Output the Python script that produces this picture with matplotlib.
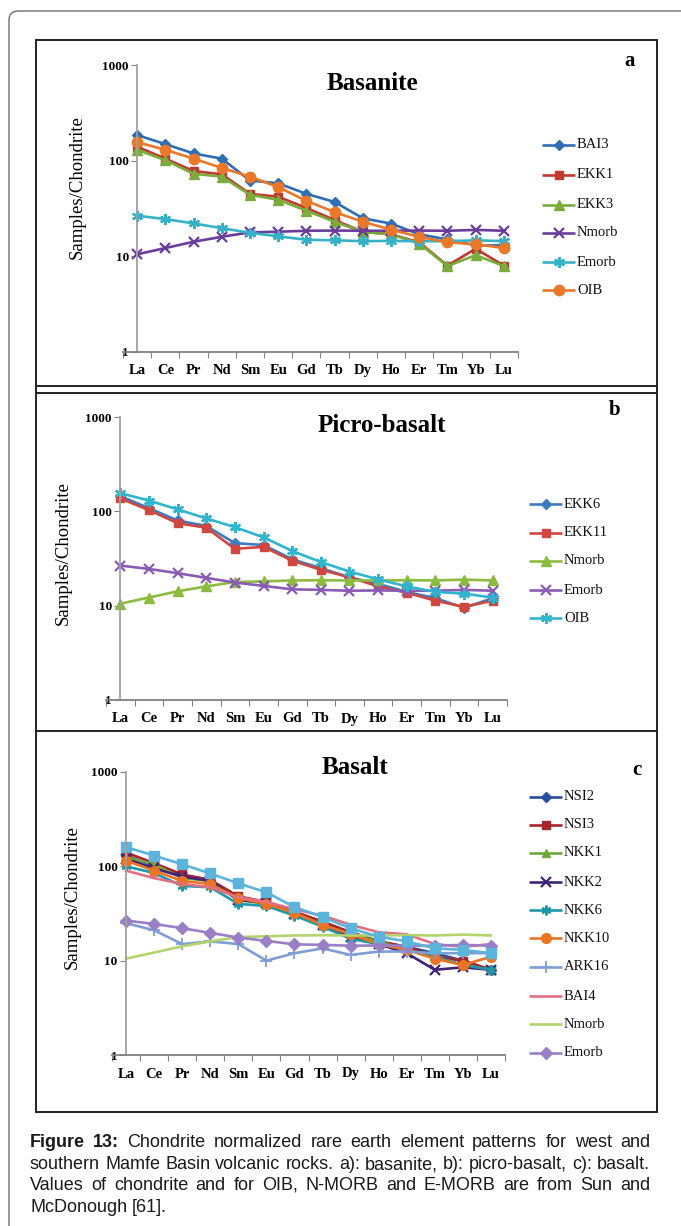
import matplotlib
matplotlib.use('Agg')
import matplotlib.pyplot as plt
from matplotlib.patches import FancyBboxPatch, Rectangle
from matplotlib.ticker import NullLocator
import numpy as np

# ---------------- data ----------------
REE = ['La', 'Ce', 'Pr', 'Nd', 'Sm', 'Eu', 'Gd', 'Tb', 'Dy', 'Ho', 'Er', 'Tm', 'Yb', 'Lu']

NMORB = [10.5, 12.2, 14.2, 16.0, 17.8, 18.1, 18.5, 18.6, 18.5, 18.5, 18.6, 18.5, 18.9, 18.5]
EMORB = [26.6, 24.5, 22.1, 19.7, 17.6, 16.2, 14.9, 14.7, 14.4, 14.5, 14.4, 14.4, 14.7, 14.4]
OIB = [156, 130, 105, 84, 68, 53, 38, 29, 23, 19, 16, 14, 13.4, 12.2]

# panel a: basanite
a_BAI3 = [185, 149, 119, 105, 62, 58, 45, 37, 25, 22, 17, 15, 13, 13]
a_EKK1 = [140, 105, 78, 72, 45, 42, 32, 24, 18, 17, 14, 8, 12, 8]
a_EKK3 = [130, 101, 73, 68, 44, 39, 30, 23, 18, 17, 13.6, 7.9, 10.3, 7.9]

# panel b: picro-basalt
b_EKK6 = [145, 108, 80, 70, 46, 44, 31, 25, 20, 17, 14, 12, 9.5, 12]
b_EKK11 = [137, 103, 75, 67, 40, 42, 30, 24, 20, 16, 13.7, 11.3, 9.7, 11.3]

# panel c: basalt
c_NSI2 = [130, 100, 80, 72, 45, 42, 32, 25, 20, 16, 14, 12, 10, 8]
c_NSI3 = [140, 108, 82, 72, 48, 42, 33, 26, 20, 16, 14, 11, 10, 8]
c_NKK1 = [125, 105, 75, 70, 44, 40, 32, 24, 19, 16, 13, 11, 9, 8]
c_NKK2 = [120, 95, 78, 70, 44, 41, 31, 24, 18, 15, 12, 8, 8.5, 8]
c_NKK6 = [100, 85, 62, 60, 40, 38, 30, 23, 17, 15, 13, 11, 9, 8]
c_NKK10 = [115, 90, 70, 65, 46, 40, 32, 24, 19, 15, 13, 10.5, 9, 11]
c_ARK16 = [25, 21, 15, 16, 15, 10, 12, 13.5, 11.5, 12.5, 12.5, 12, 12, 12]
c_BAI4 = [90, 75, 65, 60, 47, 42, 35, 30, 24, 20, 19, 15, 14, 15]
c_OIB = [160, 130, 105, 84, 66, 53, 37, 29, 22, 18, 16, 13.5, 13, 12]

LEG_A = ['BAI3', 'EKK1', 'EKK3', 'Nmorb', 'Emorb', 'OIB']
LEG_B = ['EKK6', 'EKK11', 'Nmorb', 'Emorb', 'OIB']
LEG_C = ['NSI2', 'NSI3', 'NKK1', 'NKK2', 'NKK6', 'NKK10', 'ARK16', 'BAI4', 'Nmorb', 'Emorb']

CAPTION = [
    ("Figure 13:", "Chondrite normalized rare earth element patterns for west and"),
    (None, "southern Mamfe Basin volcanic rocks. a): basanite, b): picro-basalt, c): basalt."),
    (None, "Values of chondrite and for OIB, N-MORB and E-MORB are from Sun and"),
    (None, "McDonough [61]."),
]

# ---------------- figure ----------------
W, H = 681, 1226
fig = plt.figure(figsize=(W / 100, H / 100), dpi=100)
fig.patch.set_facecolor('white')

ov = fig.add_axes([0, 0, 1, 1], zorder=5)
ov.set_xlim(0, W)
ov.set_ylim(H, 0)
ov.axis('off')

SERIF = ['Liberation Serif', 'DejaVu Serif']
SANS = ['Liberation Sans', 'DejaVu Sans']


def ax_at(x0, y0, x1, y1):
    return fig.add_axes([x0 / W, 1 - y1 / H, (x1 - x0) / W, (y1 - y0) / H], zorder=2)


# borders
ov.add_patch(FancyBboxPatch((9, 11), 800, 1400, boxstyle="round,pad=0,rounding_size=9",
                            fill=False, ec='#6e6e6e', lw=1.0))
ov.add_patch(Rectangle((36, 40), 621, 1072, fill=False, ec='#222222', lw=1.4))
for yy in (386, 393, 731):
    ov.plot([36, 657], [yy, yy], color='#222222', lw=1.4)

STYLES = {
    'blue_d': dict(color='#2f6db5', marker='D', ms=5.5),
    'red_s': dict(color='#c0392f', marker='s', ms=6),
    'green_t': dict(color='#7aac3c', marker='^', ms=7),
    'purple_x': dict(color='#6a3d9a', marker='x', ms=7, mew=1.6),
    'cyan_ast': dict(color='#35b2c8', marker=(6, 2, 0), ms=8, mew=1.6),
    'orange_o': dict(color='#e9782a', marker='o', ms=7.5),
}


def setup_axes(ax):
    ax.set_yscale('log')
    ax.set_xlim(-0.5, 13.5)
    ax.set_ylim(1, 1000)
    ax.patch.set_alpha(0)
    for s in ('top', 'right'):
        ax.spines[s].set_visible(False)
    ax.spines['left'].set_position(('data', 0))
    ax.spines['left'].set_color('#a0a0a0')
    ax.spines['left'].set_linewidth(1.3)
    ax.spines['bottom'].set_color('#808080')
    ax.spines['bottom'].set_linewidth(1.3)
    ax.set_yticks([1, 10, 100, 1000])
    ax.set_yticklabels(['1', '10', '100', '1000'])
    ax.yaxis.set_minor_locator(NullLocator())
    ax.tick_params(axis='y', which='major', length=4, color='#808080', pad=2,
                   labelsize=9.5)
    ax.set_xticks(np.arange(-0.5, 14, 1))
    ax.set_xticklabels([''] * 15)
    ax.set_xticks(np.arange(14), minor=True)
    ax.set_xticklabels(REE, minor=True)
    ax.tick_params(axis='x', which='major', length=4, color='#808080')
    ax.tick_params(axis='x', which='minor', length=0, pad=9, labelsize=10.5)
    for lab in ax.get_xticklabels(minor=True) + ax.get_yticklabels():
        lab.set_fontfamily(SERIF)
        lab.set_fontweight('bold')


def draw_series(ax, vals, st, lw=1.9):
    kw = dict(st)
    color = kw.pop('color')
    ax.plot(np.arange(len(REE)), vals, color=color, lw=lw, mfc=color, mec=color,
            solid_joinstyle='round', **kw)


def legend(x0, x1, ys, labels, styles, lw=1.9, fs=10.5):
    for y, lab, st in zip(ys, labels, styles):
        kw = dict(st)
        color = kw.pop('color')
        ov.plot([x0, x1], [y, y], color=color, lw=lw, solid_capstyle='butt')
        if 'marker' in kw:
            ov.plot([(x0 + x1) / 2], [y], color=color, mfc=color, mec=color, ls='none', **kw)
        ov.text(x1 + 2, y, lab, fontsize=fs, family=SERIF, va='center', ha='left', color='#111111')


def titles(title, tx, ty, letter, lx, ly, ylx, yly):
    ov.text(tx, ty, title, fontsize=18, family=SERIF, weight='bold', ha='center', va='center')
    ov.text(lx, ly, letter, fontsize=15, family=SERIF, weight='bold', ha='center', va='center')
    ov.text(ylx, yly, 'Samples/Chondrite', fontsize=13.5, family=SERIF, rotation=90,
            ha='center', va='center')


# ---------- panel a ----------
axa = ax_at(123, 65, 518, 352)
setup_axes(axa)
sty_a = [STYLES['blue_d'], STYLES['red_s'], STYLES['green_t'], STYLES['purple_x'],
         STYLES['cyan_ast'], STYLES['orange_o']]
for vals, st in zip([a_BAI3, a_EKK1, a_EKK3, NMORB, EMORB, OIB], sty_a):
    draw_series(axa, vals, st)
titles('Basanite', 372, 84, 'a', 630, 61, 77, 187)
legend(542, 575, [145, 175, 205, 233, 262, 290], LEG_A, sty_a)

# ---------- panel b ----------
axb = ax_at(106, 417, 507, 700)
setup_axes(axb)
sty_b = [dict(STYLES['blue_d'], color='#3d7cc0'), dict(STYLES['red_s'], color='#d0473f'),
         dict(STYLES['green_t'], color='#8cbc3f'), dict(STYLES['purple_x'], color='#8a5bb5'),
         dict(STYLES['cyan_ast'], color='#30b5cf')]
for vals, st in zip([b_EKK6, b_EKK11, NMORB, EMORB, OIB], sty_b):
    draw_series(axb, vals, st)
titles('Picro-basalt', 382, 425, 'b', 615, 410, 63, 553)
legend(529, 562, [504, 533, 561, 590, 618], LEG_B, sty_b)

# ---------- panel c ----------
axc = ax_at(112, 772, 505, 1055)
setup_axes(axc)
sty_c = [
    dict(color='#2a4f9e', marker='D', ms=5),
    dict(color='#a8232a', marker='s', ms=5.5),
    dict(color='#6fa83a', marker='^', ms=6),
    dict(color='#3f2479', marker='x', ms=7, mew=1.6),
    dict(color='#1f97aa', marker=(6, 2, 0), ms=7, mew=1.5),
    dict(color='#ea7424', marker='o', ms=7),
    dict(color='#7d9fd6', marker='+', ms=8, mew=1.3),
    dict(color='#e36f82'),
    dict(color='#b3d46c'),
    dict(color='#9a7ec6', marker='D', ms=6),
]
for vals, st in zip([c_NSI2, c_NSI3, c_NKK1, c_NKK2, c_NKK6, c_NKK10, c_ARK16, c_BAI4,
                     NMORB, EMORB], sty_c):
    draw_series(axc, vals, st)
draw_series(axc, c_OIB, dict(color='#5cb3dc', marker='s', ms=7.5))
titles('Basalt', 355, 767, 'c', 637, 770, 72, 897)
legend(529, 562, [797, 825, 853, 882, 910, 938, 967, 996, 1024, 1053], LEG_C, sty_c)

# ---------- caption (justified) ----------
fig.canvas.draw()
renderer = fig.canvas.get_renderer()
CAP_FS = 13
left, right = 30, 650
line_base = [1147, 1169, 1190, 1212]


def px_width(t):
    return t.get_window_extent(renderer=renderer).width


probe2 = ov.text(0, 0, 'n n', fontsize=CAP_FS, family=SANS)
probe1 = ov.text(0, 0, 'nn', fontsize=CAP_FS, family=SANS)
sp_w = px_width(probe2) - px_width(probe1)
probe1.remove()
probe2.remove()

for idx, ((bold, rest), y) in enumerate(zip(CAPTION, line_base)):
    words = []
    if bold:
        words += [(w_, 'bold') for w_ in bold.split()]
    words += [(w_, 'normal') for w_ in rest.split()]
    texts = [ov.text(0, y, w_, fontsize=CAP_FS, family=SANS, weight=wt, va='baseline',
                     ha='left', color='#1a1a1a') for w_, wt in words]
    widths = [px_width(t) for t in texts]
    if idx < 3:
        gap = (right - left - sum(widths)) / (len(words) - 1)
    else:
        gap = sp_w
    x = left
    for t, wd in zip(texts, widths):
        t.set_x(x)
        x += wd + gap

fig.savefig('out.png', dpi=100, facecolor='white')
